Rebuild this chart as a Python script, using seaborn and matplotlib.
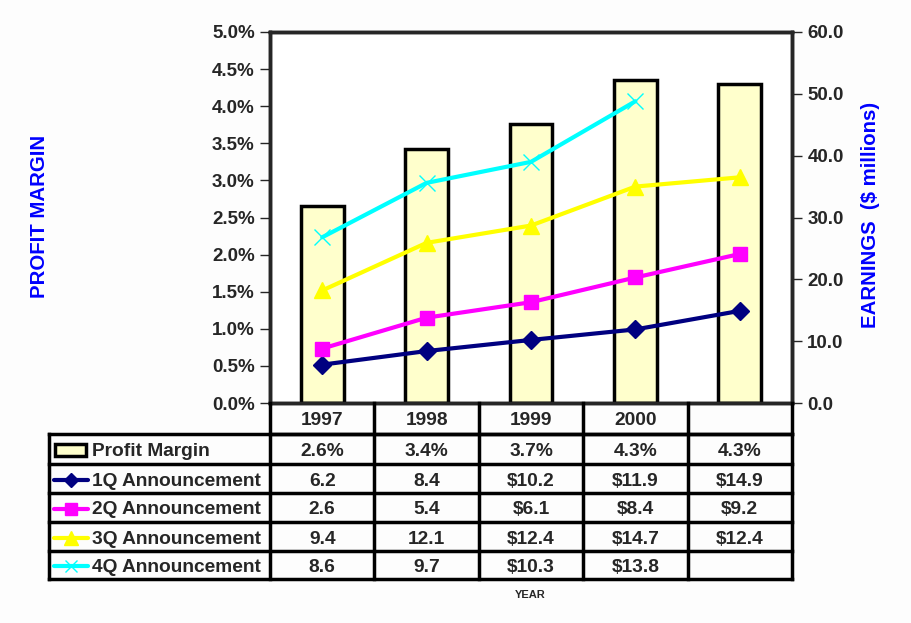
import matplotlib
matplotlib.use("Agg")
import matplotlib.pyplot as plt
import numpy as np
import pandas as pd
import seaborn as sns
from matplotlib.lines import Line2D
from matplotlib.patches import Rectangle

# data
periods = ["P1997", "P1998", "P1999", "P2000", "P2001"]
year_labels = ["1997", "1998", "1999", "2000", ""]
profit_margin = [2.65, 3.42, 3.76, 4.35, 4.30]
q1 = [6.2, 8.4, 10.2, 11.9, 14.9]
q2 = [2.6, 5.4, 6.1, 8.4, 9.2]
q3 = [9.4, 12.1, 12.4, 14.7, 12.4]
q4 = [8.6, 9.7, 10.3, 13.8, np.nan]

margin_text = ["2.6%", "3.4%", "3.7%", "4.3%", "4.3%"]
q1_text = ["6.2", "8.4", "$10.2", "$11.9", "$14.9"]
q2_text = ["2.6", "5.4", "$6.1", "$8.4", "$9.2"]
q3_text = ["9.4", "12.1", "$12.4", "$14.7", "$12.4"]
q4_text = ["8.6", "9.7", "$10.3", "$13.8", ""]

sns.set_style("white")
plt.rcParams["font.family"] = ["Liberation Sans", "DejaVu Sans"]
plt.rcParams["font.weight"] = "bold"

W, H = 911, 623
fig = plt.figure(figsize=(W / 100, H / 100), dpi=100)
fig.patch.set_facecolor("#FDFDFD")

# plot area in pixels
px0, px1, py0, py1 = 270, 792, 32, 403
ax = fig.add_axes([px0 / W, 1 - py1 / H, (px1 - px0) / W, (py1 - py0) / H])
ax.set_facecolor("white")

df = pd.DataFrame({"period": periods, "margin": profit_margin})
sns.barplot(data=df, x="period", y="margin", order=periods, ax=ax,
            color="#FFFFCC", edgecolor="black", linewidth=2.5, width=0.41,
            saturation=1)
ax.set_xlim(-0.5, 4.5)
ax.set_ylim(0, 5)
ax.set_yticks(np.arange(0, 5.01, 0.5))
ax.set_yticklabels([f"{v:.1f}%" for v in np.arange(0, 5.01, 0.5)])
ax.set_xticks([])
ax.set_xlabel("")
ax.set_ylabel("")
for s in ax.spines.values():
    s.set_linewidth(2.5)
    s.set_color("black")
ax.tick_params(axis="y", direction="out", length=7, width=1, labelsize=13.5, pad=4,
               left=True)

# stacked earnings lines
ax2 = ax.twinx()
x = np.arange(len(periods))
c1 = np.array(q1)
c2 = c1 + np.array(q2)
c3 = c2 + np.array(q3)
c4 = c3 + np.array(q4)
series = [
    ("1Q Announcement", c1, "#000080", "D", 9, 1),
    ("2Q Announcement", c2, "#FF00FF", "s", 10, 1),
    ("3Q Announcement", c3, "#FFFF00", "^", 12, 1),
    ("4Q Announcement", c4, "#00FFFF", "x", 11, 1.0),
]
for name, vals, col, mk, ms, mew in series:
    sns.lineplot(x=x, y=vals, ax=ax2, color=col, marker=mk, markersize=ms,
                 markeredgecolor=col, markeredgewidth=mew, linewidth=3)
ax2.set_ylim(0, 60)
ax2.set_yticks(np.arange(0, 61, 10))
ax2.set_yticklabels([f"{v:.1f}" for v in np.arange(0, 61, 10)])
ax2.set_xlim(-0.5, 4.5)
ax2.tick_params(axis="y", direction="out", length=7, width=1, labelsize=13.5, pad=4,
                right=True)
for s in ax2.spines.values():
    s.set_linewidth(2.5)
for lab in ax.get_yticklabels() + ax2.get_yticklabels():
    lab.set_fontweight("bold")

fig.text(40 / W, 1 - 216 / H, "PROFIT MARGIN", rotation=90, color="#0000FF",
         fontsize=14.7, fontweight="bold", ha="center", va="center")
fig.text(870 / W, 1 - 215 / H, "EARNINGS  ($ millions)", rotation=90, color="#0000FF",
         fontsize=14.7, fontweight="bold", ha="center", va="center")

# data table underneath
tab = fig.add_axes([0, 0, 1, 1])
tab.set_xlim(0, W)
tab.set_ylim(H, 0)
tab.axis("off")
tab.patch.set_alpha(0)

cols = [270, 374.4, 478.8, 583.2, 687.6, 792]
rows = [403, 434, 464, 493, 522, 551, 579]
lk = dict(color="black", linewidth=2.5, solid_capstyle="projecting")
# header row
tab.plot([cols[0], cols[-1]], [rows[1], rows[1]], **lk)
for cx in cols:
    tab.plot([cx, cx], [rows[0], rows[-1]], **lk)
# legend column and body
tab.plot([49, 49], [rows[1], rows[-1]], **lk)
for ry in rows[1:]:
    tab.plot([49, cols[-1]], [ry, ry], **lk)

centers = [(cols[i] + cols[i + 1]) / 2 for i in range(len(cols) - 1)]
fs = 13.8
for cx, lab in zip(centers, year_labels):
    tab.text(cx, (rows[0] + rows[1]) / 2 + 2, lab, ha="center", va="center",
             fontsize=fs, fontweight="bold")

row_texts = [margin_text, q1_text, q2_text, q3_text, q4_text]
row_names = ["Profit Margin"] + [s[0] for s in series]
for r, (name, texts) in enumerate(zip(row_names, row_texts)):
    cy = (rows[r + 1] + rows[r + 2]) / 2 + 2.5
    for cx, t in zip(centers, texts):
        tab.text(cx, cy, t, ha="center", va="center", fontsize=fs, fontweight="bold")
    tab.text(92, cy, name, ha="left", va="center", fontsize=fs, fontweight="bold")
    hy = cy - 1.5
    if r == 0:
        tab.add_patch(Rectangle((55, hy - 6), 31, 12, facecolor="#FFFFCC",
                                edgecolor="black", linewidth=2.5))
    else:
        _, _, col, mk, ms, mew = series[r - 1]
        tab.add_line(Line2D([54, 88], [hy, hy], color=col, linewidth=3))
        tab.add_line(Line2D([71], [hy], color=col, marker=mk, markersize=ms * 0.8,
                            markeredgecolor=col, markeredgewidth=mew))

fig.text(530 / W, 1 - 595 / H, "YEAR", ha="center", va="center", fontsize=8,
         fontweight="bold")

fig.savefig("out.png", dpi=100, facecolor=fig.get_facecolor())
